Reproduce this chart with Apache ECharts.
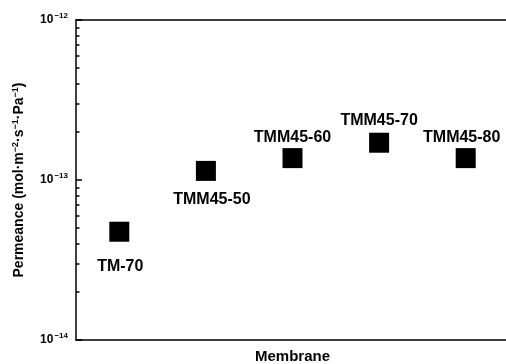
<!DOCTYPE html>
<html lang="en">
<head>
    <meta charset="UTF-8">
    <title>Permeance</title>
    <script src="https://cdn.jsdelivr.net/npm/echarts@6/dist/echarts.min.js"></script>
    <style>
        html, body { margin: 0; padding: 0; background: #fff; }
    </style>
</head>
<body>
    <div id="main" style="width:506px; height:364px;"></div>

    <script>
        var membranes = ['TM-70', 'TMM45-50', 'TMM45-60', 'TMM45-70', 'TMM45-80'];
        var permeance = [4.75e-14, 1.14e-13, 1.37e-13, 1.71e-13, 1.37e-13];
        var minorTicks = [2e-14, 3e-14, 4e-14, 5e-14, 6e-14, 7e-14, 8e-14, 9e-14,
                          2e-13, 3e-13, 4e-13, 5e-13, 6e-13, 7e-13, 8e-13, 9e-13];

        var font = '"Liberation Sans", Arial, sans-serif';

        // where each point label sits (below for the first two)
        var labelPos = [
            { position: 'bottom', distance: 17, offset: [1, 0] },
            { position: 'bottom', distance: 11, offset: [6, 0] },
            { position: 'top', distance: 3, offset: [0, 0] },
            { position: 'top', distance: 4, offset: [0, 0] },
            { position: 'top', distance: 3, offset: [-4, 0] }
        ];

        var mychart = echarts.init(document.getElementById('main'));

        var axisLineStyle = { color: '#000', width: 1.5 };

        var option = {
            animation: false,
            grid: { left: 76, right: -3, top: 20, bottom: 24, outerBoundsMode: 'none' },
            xAxis: [{
                type: 'category',
                data: membranes,
                position: 'bottom',
                axisLine: { lineStyle: axisLineStyle },
                axisTick: { show: false },
                axisLabel: { show: false },
                name: 'Membrane',
                nameLocation: 'middle',
                nameGap: 9,
                nameTextStyle: { fontFamily: font, fontWeight: 'bold', fontSize: 15, color: '#000' }
            }, {
                type: 'category',
                data: membranes,
                position: 'top',
                axisLine: { lineStyle: axisLineStyle },
                axisTick: { show: false },
                axisLabel: { show: false }
            }],
            yAxis: [{
                type: 'log',
                logBase: 10,
                min: 1e-14,
                max: 1e-12,
                axisLine: { show: true, lineStyle: axisLineStyle },
                axisTick: { show: true, inside: true, length: 6, lineStyle: { color: '#000', width: 1.5 } },
                splitLine: { show: false },
                axisLabel: {
                    margin: 8,
                    formatter: function (v) {
                        var e = Math.round(Math.log10(v));
                        return '{b|10}{s|−' + Math.abs(e) + '}';
                    },
                    rich: {
                        b: { fontFamily: font, fontWeight: 'bold', fontSize: 12, color: '#000' },
                        s: { fontFamily: font, fontWeight: 'bold', fontSize: 8, color: '#000', padding: [0, 0, 8, 1] }
                    }
                },
                name: '{t|Permeance (mol·m}{s|−2}{t|·s}{s|−1}{t|·Pa}{s|−1}{t|)}',
                nameLocation: 'middle',
                nameGap: 48,
                nameTextStyle: {
                    rich: {
                        t: { fontFamily: font, fontWeight: 'bold', fontSize: 14, color: '#000' },
                        s: { fontFamily: font, fontWeight: 'bold', fontSize: 9, color: '#000', padding: [0, 0, 8, 0] }
                    }
                }
            }, {
                // minor ticks, placed on a linear axis in decade units
                type: 'value',
                min: -14,
                max: -12,
                position: 'left',
                axisLine: { show: false },
                axisTick: {
                    show: true,
                    inside: true,
                    length: 3.5,
                    customValues: minorTicks.map(function (v) { return Math.log10(v); }),
                    lineStyle: { color: '#000', width: 1.5 }
                },
                axisLabel: { show: false },
                splitLine: { show: false }
            }],
            series: [{
                type: 'scatter',
                symbol: 'rect',
                symbolSize: 20,
                itemStyle: { color: '#000', opacity: 1 },
                data: permeance.map(function (v, i) {
                    return {
                        value: v,
                        label: {
                            show: true,
                            formatter: membranes[i],
                            position: labelPos[i].position,
                            distance: labelPos[i].distance,
                            offset: labelPos[i].offset,
                            fontFamily: font,
                            fontWeight: 'bold',
                            fontSize: 16,
                            color: '#000'
                        }
                    };
                })
            }]
        };
        mychart.setOption(option);
    </script>
</body>
</html>
